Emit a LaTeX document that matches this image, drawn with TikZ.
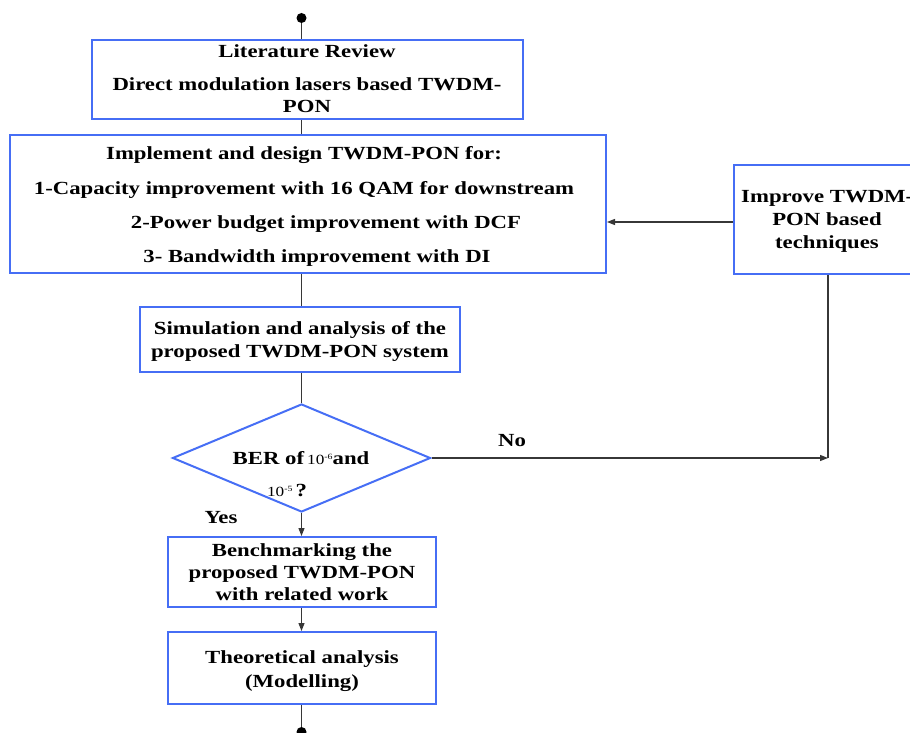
\documentclass[tikz,border=0pt]{standalone}
\usepackage{fontspec}
\setmainfont{Liberation Serif}[FakeStretch=1.23]
\usetikzlibrary{arrows.meta,shapes.geometric}
\definecolor{boxblue}{RGB}{70,110,245}
\definecolor{wire}{RGB}{55,55,55}

\begin{document}
\begin{tikzpicture}[x=1pt,y=-1pt,
  box/.style={draw=boxblue,line width=2pt,inner sep=0pt},
  txt/.style={anchor=base,inner sep=0pt,font=\bfseries\fontsize{18.5}{22}\selectfont},
  wireline/.style={draw=wire,line width=1.2pt},
  tip/.style={wireline,-{Triangle[length=8pt,width=6pt]}},
  enddot/.style={circle,fill=black,inner sep=0pt,minimum size=10pt}
]
\useasboundingbox (0,0) rectangle (910,733);
\clip (0,0) rectangle (910,733);

% vertical spine of the main flow
\coordinate (spine) at (301.5,0);
\coordinate (fbrow) at (0,222);

% start / end markers
\node[enddot] (start) at (301.5,18) {};
\node[enddot] (stop) at (301.5,732) {};

% boxes
\node[box,minimum width=431pt,minimum height=79pt] (lit) at (307.5,79.5) {};
\node[box,minimum width=596pt,minimum height=138pt] (impl) at (308,204) {};
\node[box,minimum width=320pt,minimum height=65pt] (sim) at (300,339.5) {};
\node[draw=boxblue,line width=2pt,diamond,inner sep=0pt,minimum width=258pt,minimum height=108pt] (ber) at (301.5,458) {};
\node[box,minimum width=268pt,minimum height=70pt] (bench) at (301.5,572) {};
\node[box,minimum width=268pt,minimum height=72pt] (theo) at (301.5,668) {};
\node[box,minimum width=188pt,minimum height=109pt] (imp) at (828,219.5) {};

% texts
\node[txt] at (307,58) {Literature Review};
\node[txt] at (307,91) {Direct modulation lasers based TWDM-};
\node[txt] at (307,113) {PON};

\node[txt] at (304,160) {Implement and design TWDM-PON for:};
\node[txt] at (304,194) {1-Capacity improvement with 16 QAM for downstream};
\node[txt] at (326,228) {2-Power budget improvement with DCF};
\node[txt] at (317,262) {3- Bandwidth improvement with DI};

\node[txt] at (300,334) {Simulation and analysis of the};
\node[txt] at (300,357) {proposed TWDM-PON system};

\node[txt] at (301,464) {BER of\,{\mdseries\fontsize{14}{14}\selectfont 10\raisebox{5pt}{\fontsize{8}{8}\selectfont -6}}and};
\node[txt] at (287,496) {{\mdseries\fontsize{14}{14}\selectfont 10\raisebox{5pt}{\fontsize{8}{8}\selectfont -5}}\,?};

\node[txt] at (302,556) {Benchmarking the};
\node[txt] at (302,578) {proposed TWDM-PON};
\node[txt] at (302,600) {with related work};

\node[txt] at (302,663) {Theoretical analysis};
\node[txt] at (302,687) {(Modelling)};

\node[txt,anchor=base west] at (741,202) {Improve TWDM-};
\node[txt] at (827,225) {PON based};
\node[txt] at (827,248) {techniques};

\node[txt] at (512,446) {No};
\node[txt] at (221,523) {Yes};

% connectors
\draw[wireline] (start) -- (lit.north -| start);
\draw[wireline] (lit.south -| spine) -- (impl.north -| spine);
\draw[wireline] (impl.south -| spine) -- (sim.north -| spine);
\draw[wireline] (sim.south -| spine) -- (ber.north);
\draw[tip] (ber.south) -- (bench.north);
\draw[tip] (bench.south) -- (theo.north);
\draw[wireline] (theo.south) -- (stop);
\draw[tip] (ber.east) -- (ber.east -| imp.south);
\draw[wireline] (imp.south) -- (ber.east -| imp.south);
\draw[tip] (imp.west |- fbrow) -- (impl.east |- fbrow);
\end{tikzpicture}
\end{document}
